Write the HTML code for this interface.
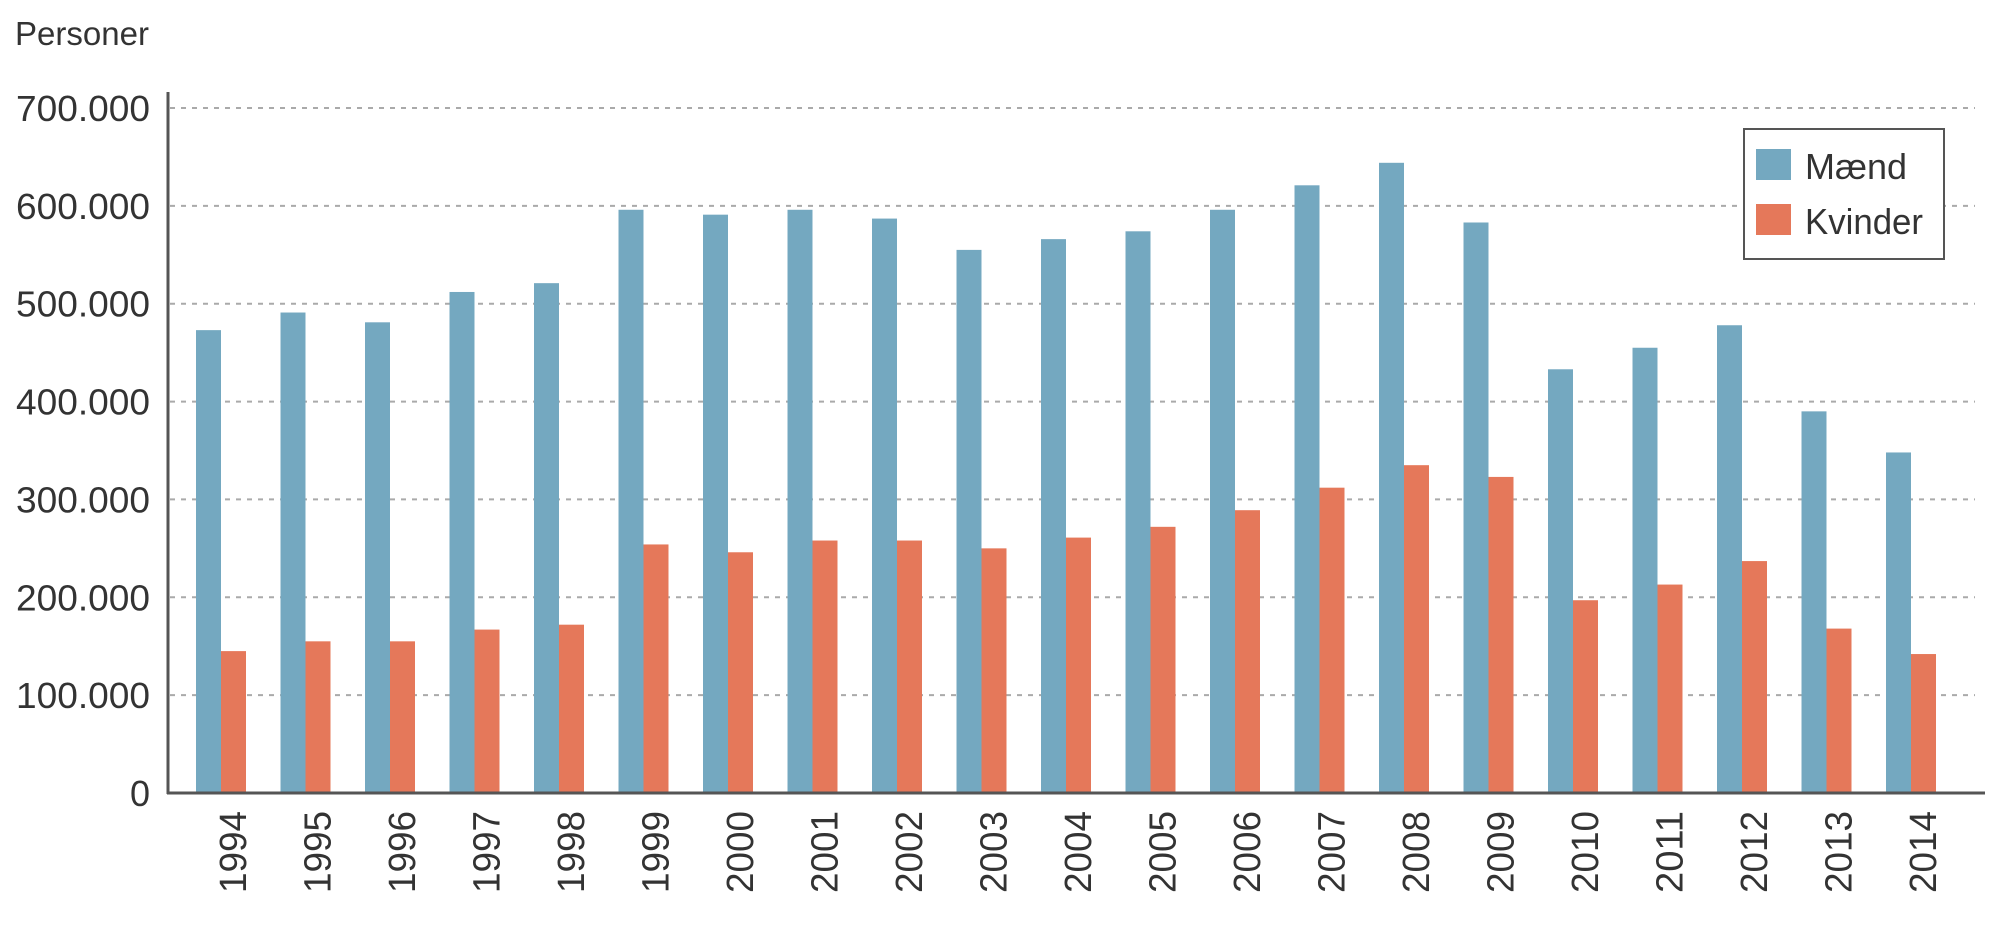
<!DOCTYPE html>
<html><head><meta charset="utf-8"><style>
html,body{margin:0;padding:0;background:#fff;}
svg{display:block;font-family:"Liberation Sans",sans-serif;}
</style></head><body>
<svg id="chart" width="2000" height="945" viewBox="0 0 2000 945" xmlns="http://www.w3.org/2000/svg">
<text x="15" y="45" font-size="33" fill="#333" textLength="134" lengthAdjust="spacingAndGlyphs">Personer</text>
<g id="grid"></g><g id="bars"></g><g id="axes"></g>
<g>
<rect x="1744" y="129" width="200" height="130" fill="#fff" stroke="#555" stroke-width="2"/>
<rect x="1756" y="149" width="35" height="31" fill="#74a8c0"/>
<text x="1805" y="179" font-size="36" fill="#333" textLength="102" lengthAdjust="spacingAndGlyphs">Mænd</text>
<rect x="1756" y="204" width="35" height="31" fill="#e5785a"/>
<text x="1805" y="234" font-size="36" fill="#333" textLength="118" lengthAdjust="spacingAndGlyphs">Kvinder</text>
</g>
</svg>
<script>
const years = ["1994","1995","1996","1997","1998","1999","2000","2001","2002","2003","2004","2005","2006","2007","2008","2009","2010","2011","2012","2013","2014"];
const maend = [473000,491000,481000,512000,521000,596000,591000,596000,587000,555000,566000,574000,596000,621000,644000,583000,433000,455000,478000,390000,348000];
const kvinder = [145000,155000,155000,167000,172000,254000,246000,258000,258000,250000,261000,272000,289000,312000,335000,323000,197000,213000,237000,168000,142000];
const yTicks = [0,100000,200000,300000,400000,500000,600000,700000];
const yTickLabels = ["0","100.000","200.000","300.000","400.000","500.000","600.000","700.000"];

const NS="http://www.w3.org/2000/svg";
const y0=793, yTop=108, yMax=700000;
const yScale=v=>y0-(v/yMax)*(y0-yTop);
const xStart=196, step=84.5, barW=25;
const xScale=i=>xStart+i*step;
function mk(tag,attrs,parent){const e=document.createElementNS(NS,tag);for(const k in attrs)e.setAttribute(k,attrs[k]);parent.appendChild(e);return e;}
const grid=document.getElementById('grid'),bars=document.getElementById('bars'),axes=document.getElementById('axes');
yTicks.forEach((t,i)=>{
  const y=yScale(t);
  if(t>0){const l=mk('line',{x1:170,x2:1975,y1:y,y2:y,stroke:'#aaa','stroke-width':2,'stroke-dasharray':'5 6'},grid);
  
  }
  const attrs={x:150,y:y+13,'font-size':36,'text-anchor':'end',fill:'#333'};
  if(t>0){attrs.textLength=134;attrs.lengthAdjust='spacingAndGlyphs';}
  const tx=mk('text',attrs,axes);
  
  
  tx.textContent=yTickLabels[i];
});
years.forEach((yr,i)=>{
  const x=xScale(i);
  const b=mk('rect',{x:x,y:yScale(maend[i]),width:barW,height:y0-yScale(maend[i]),fill:'#74a8c0'},bars);
  
  
  const o=mk('rect',{x:x+barW,y:yScale(kvinder[i]),width:barW,height:y0-yScale(kvinder[i]),fill:'#e5785a'},bars);
  
  
  const cx=x+barW+12;
  const t=mk('text',{x:0,y:0,'font-size':38,'text-anchor':'end',fill:'#333',textLength:82,lengthAdjust:'spacingAndGlyphs',transform:`translate(${cx},811) rotate(-90)`},axes);
  
  
  t.setAttribute('dy','13');
  t.textContent=yr;
});
const ya=mk('line',{x1:168,x2:168,y1:92,y2:794,stroke:'#555','stroke-width':3},axes);


const xa=mk('line',{x1:167,x2:1985,y1:793,y2:793,stroke:'#555','stroke-width':3},axes);


</script>
</body></html>
